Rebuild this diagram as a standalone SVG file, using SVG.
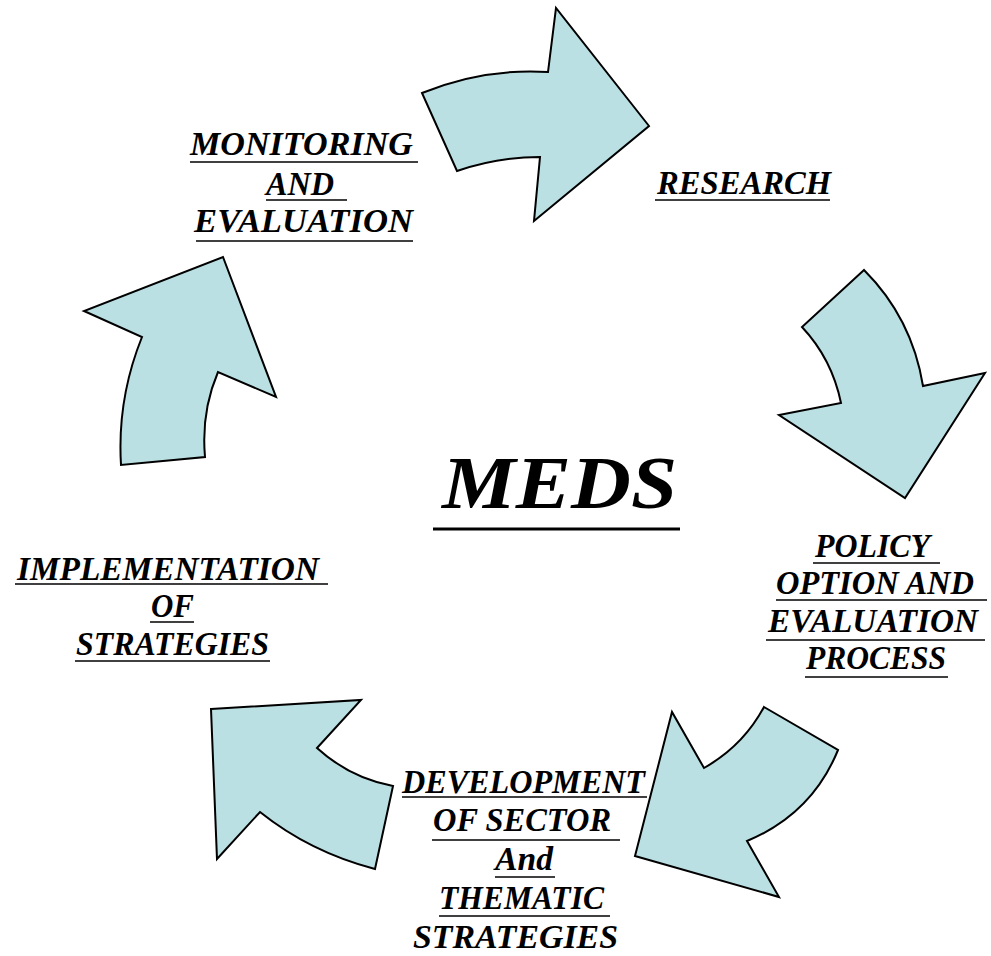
<svg xmlns="http://www.w3.org/2000/svg" width="991" height="956" viewBox="0 0 991 956">
  <style>
    .arrow { fill: #bbe0e3; stroke: #000; stroke-width: 2; stroke-linejoin: miter; }
    .lbl { font-family: "Liberation Serif", "Times New Roman", serif; font-weight: bold; font-style: italic; font-size: 33px; fill: #000; }
    .title { font-family: "Liberation Serif", "Times New Roman", serif; font-weight: bold; font-style: italic; font-size: 73px; fill: #000; }
    .ul { stroke: #000; stroke-width: 1.6; fill: none; }
  </style>
  <rect x="0" y="0" width="991" height="956" fill="#fff"/>

  <!-- cycle arrows -->
  <g id="connectors">
    <path class="arrow" d="M422,93 Q483,68 548,72 L556,8 L649,126 L534,221 L540,157 Q498,157 457,171 Z"/>
    <path class="arrow" d="M864,270 L802,327 Q832,359 841,403 L779,415 L905,498 L985,373 L923,386 Q912,318 864,270 Z"/>
    <path class="arrow" d="M764,707 L838,750 Q812,814 747,841 L779,897 L635,856 L672,712 L704,768 Q743,746 764,707 Z"/>
    <path class="arrow" d="M211,709 L361,700 L317,748 Q350,778 393,786 L375,869 Q310,852 260,812 L217,859 Z"/>
    <path class="arrow" d="M223,257 L276,397 L218,372 Q201,412 205,457 L121,465 Q117,399 142,337 L84,311 Z"/>
  </g>

  <g id="title">
    <text class="title" x="442" y="508" textLength="235" lengthAdjust="spacingAndGlyphs">MEDS</text>
    <line class="ul" x1="433" y1="529" x2="680" y2="529" style="stroke-width:3"/>
  </g>

  <g id="research">
    <text class="lbl" x="657" y="194" textLength="174" lengthAdjust="spacingAndGlyphs">RESEARCH</text>
    <line class="ul" x1="655" y1="200" x2="830" y2="200"/>
  </g>

  <g id="policy">
    <text class="lbl" x="815" y="557" textLength="115" lengthAdjust="spacingAndGlyphs">POLICY</text>
    <line class="ul" x1="813" y1="563" x2="940" y2="563"/>
    <text class="lbl" x="776" y="594" textLength="198" lengthAdjust="spacingAndGlyphs">OPTION AND</text>
    <line class="ul" x1="776" y1="600" x2="987" y2="600"/>
    <text class="lbl" x="768" y="632" textLength="210" lengthAdjust="spacingAndGlyphs">EVALUATION</text>
    <line class="ul" x1="766" y1="640" x2="985" y2="640"/>
    <text class="lbl" x="806" y="669" textLength="140" lengthAdjust="spacingAndGlyphs">PROCESS</text>
    <line class="ul" x1="805" y1="677" x2="948" y2="677"/>
  </g>

  <g id="development">
    <text class="lbl" x="402" y="793" textLength="243" lengthAdjust="spacingAndGlyphs">DEVELOPMENT</text>
    <line class="ul" x1="402" y1="797" x2="647" y2="797"/>
    <text class="lbl" x="433" y="831" textLength="178" lengthAdjust="spacingAndGlyphs">OF SECTOR</text>
    <line class="ul" x1="432" y1="840" x2="620" y2="840"/>
    <text class="lbl" x="495" y="870" textLength="58" lengthAdjust="spacingAndGlyphs">And</text>
    <line class="ul" x1="495" y1="877" x2="555" y2="877"/>
    <text class="lbl" x="439" y="909" textLength="165" lengthAdjust="spacingAndGlyphs">THEMATIC</text>
    <line class="ul" x1="439" y1="916" x2="610" y2="916"/>
    <text class="lbl" x="413" y="948" textLength="205" lengthAdjust="spacingAndGlyphs">STRATEGIES</text>
  </g>

  <g id="implementation">
    <text class="lbl" x="17" y="580" textLength="302" lengthAdjust="spacingAndGlyphs">IMPLEMENTATION</text>
    <line class="ul" x1="15" y1="584" x2="328" y2="584"/>
    <text class="lbl" x="151" y="617" textLength="43" lengthAdjust="spacingAndGlyphs">OF</text>
    <line class="ul" x1="150" y1="622" x2="194" y2="622"/>
    <text class="lbl" x="76" y="655" textLength="193" lengthAdjust="spacingAndGlyphs">STRATEGIES</text>
    <line class="ul" x1="75" y1="661" x2="270" y2="661"/>
  </g>

  <g id="monitoring">
    <text class="lbl" x="190" y="155" textLength="223" lengthAdjust="spacingAndGlyphs">MONITORING</text>
    <line class="ul" x1="190" y1="162" x2="418" y2="162"/>
    <text class="lbl" x="266" y="195" textLength="68" lengthAdjust="spacingAndGlyphs">AND</text>
    <line class="ul" x1="266" y1="200" x2="347" y2="200"/>
    <text class="lbl" x="194" y="232" textLength="219" lengthAdjust="spacingAndGlyphs">EVALUATION</text>
    <line class="ul" x1="196" y1="241" x2="413" y2="241"/>
  </g>
</svg>
